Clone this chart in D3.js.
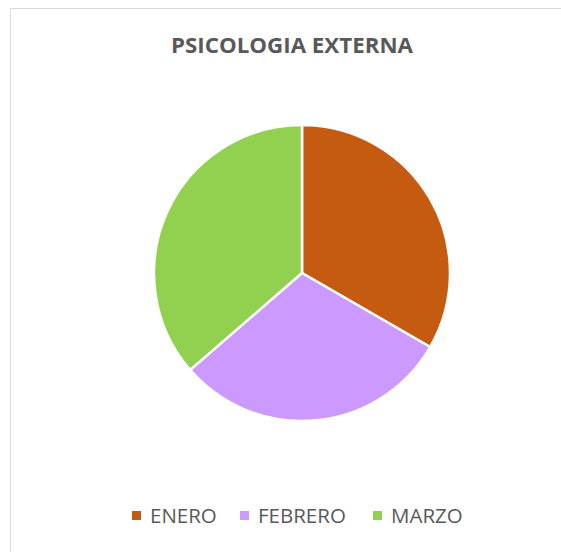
<!DOCTYPE html>
<html>
<head>
<meta charset="utf-8">
<script src="https://cdn.jsdelivr.net/npm/d3@7"></script>
<style>
  body { margin: 0; background: #fff; }
  svg { display: block; }
</style>
</head>
<body>
<div id="chart"></div>
<script>
const categories = ["ENERO", "FEBRERO", "MARZO"];
const values = [11, 10, 12];
const colors = ["#C55A11", "#CC99FF", "#92D050"];
const title = "PSICOLOGIA EXTERNA";

const width = 561;
const height = 552;
const cx = 302;
const cy = 273;
const radius = 148;

const svg = d3
  .select("#chart")
  .append("svg")
  .attr("width", width)
  .attr("height", height);

// chart area border (runs off the right and bottom edge)
svg
  .append("rect")
  .attr("x", 10.5)
  .attr("y", 8.5)
  .attr("width", 600)
  .attr("height", 600)
  .attr("fill", "#fff")
  .attr("stroke", "#d9d9d9")
  .attr("stroke-width", 1);

svg
  .append("text")
  .attr("x", 292)
  .attr("y", 53)
  .attr("text-anchor", "middle")
  .attr("font-family", "'Open Sans', sans-serif")
  .attr("font-weight", "bold")
  .attr("font-size", "21.5px")
  .attr("fill", "#595959")
  .attr("textLength", 242)
  .attr("lengthAdjust", "spacingAndGlyphs")
  .text(title);

const pie = d3.pie().sort(null).value((d) => d);
const arc = d3.arc().innerRadius(0).outerRadius(radius);
const color = d3.scaleOrdinal().domain(categories).range(colors);

svg
  .append("g")
  .attr("transform", `translate(${cx}, ${cy})`)
  .selectAll("path")
  .data(pie(values))
  .enter()
  .append("path")
  .attr("d", arc)
  .attr("fill", (d, i) => color(categories[i]))
  .attr("stroke", "#fff")
  .attr("stroke-width", 2.5)
  .attr("stroke-linejoin", "round");

// legend
const legendX = [132, 240, 373];
const legend = svg
  .selectAll(".legend")
  .data(categories)
  .enter()
  .append("g")
  .attr("class", "legend")
  .attr("transform", (d, i) => `translate(${legendX[i]}, 511)`);

legend
  .append("rect")
  .attr("width", 9)
  .attr("height", 9)
  .attr("fill", (d) => color(d));

legend
  .append("text")
  .attr("x", 18)
  .attr("y", 12)
  .attr("font-family", "'Open Sans', sans-serif")
  .attr("font-size", "20.5px")
  .attr("fill", "#595959")
  .text((d) => d);
</script>
</body>
</html>
